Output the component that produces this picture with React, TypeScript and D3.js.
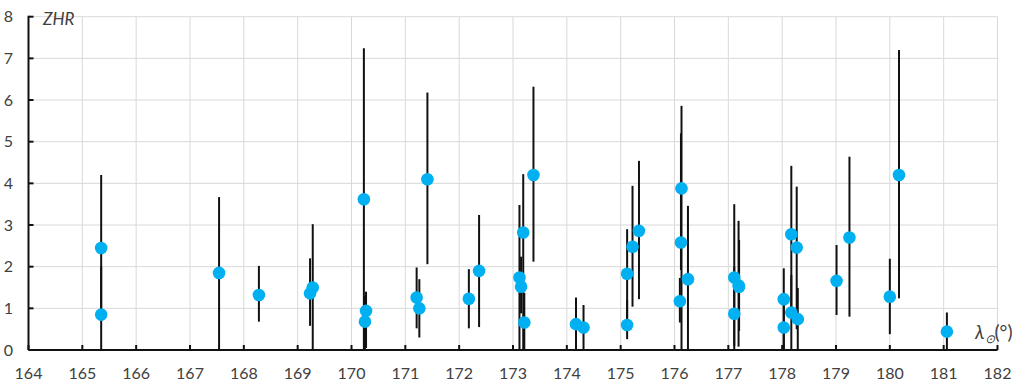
import React from "react";
import * as d3 from "d3";

const xTicks = [164, 165, 166, 167, 168, 169, 170, 171, 172, 173, 174, 175, 176, 177, 178, 179, 180, 181, 182];
const yTicks = [0, 1, 2, 3, 4, 5, 6, 7, 8];

const lambda = [165.35, 165.35, 167.54, 168.28, 169.23, 169.28, 170.23, 170.27, 170.25, 171.21, 171.26, 171.41, 172.18, 172.37, 173.12, 173.15, 173.19, 173.21, 173.38, 174.17, 174.31, 175.12, 175.12, 175.22, 175.34, 176.13, 176.12, 176.10, 176.25, 177.11, 177.11, 177.19, 177.2, 178.03, 178.03, 178.17, 178.17, 178.27, 178.29, 179.01, 179.25, 180.0, 180.17, 181.06];
const zhr = [2.45, 0.85, 1.85, 1.32, 1.36, 1.5, 3.62, 0.94, 0.68, 1.26, 1.0, 4.1, 1.23, 1.9, 1.74, 1.52, 2.82, 0.66, 4.2, 0.62, 0.54, 1.83, 0.6, 2.48, 2.86, 3.88, 2.58, 1.17, 1.7, 1.74, 0.87, 1.55, 1.52, 1.22, 0.54, 2.78, 0.9, 2.46, 0.74, 1.66, 2.7, 1.28, 4.2, 0.44];
const zhrLow = [0.7, 0, 0, 0.68, 0.58, 0, 0, 0.05, 0, 0.52, 0.3, 2.06, 0.52, 0.55, 0, 0.88, 0, 0, 2.12, 0, 0, 0.75, 0.26, 1.04, 1.22, 0, 1.92, 0.66, 0, 0, 0.1, 0.08, 0.46, 0, 0, 0.9, 0, 0.5, 0, 0.84, 0.8, 0.38, 1.24, 0];
const zhrHigh = [4.2, 2.0, 3.67, 2.02, 2.2, 3.02, 7.24, 1.4, 1.3, 1.98, 1.7, 6.18, 1.94, 3.24, 3.48, 2.24, 4.22, 1.37, 6.32, 1.26, 1.08, 2.9, 1.2, 3.94, 4.54, 5.86, 5.2, 1.73, 3.46, 3.5, 2.0, 3.1, 2.64, 1.96, 1.1, 4.42, 1.8, 3.92, 1.49, 2.52, 4.64, 2.19, 7.2, 0.9];

const W = 1024;
const H = 388;
const FONT = "Lato, 'Open Sans', sans-serif";
const TXT = "#404040";

export default function App() {
  const x = d3.scaleLinear().domain([164, 182]).range([28.5, 997.5]);
  const y = d3.scaleLinear().domain([0, 8]).range([350, 16.7]);
  const idx = d3.range(lambda.length);

  return (
    <svg width={W} height={H} style={{ position: "absolute", left: 0, top: 0, background: "#fff" }}>
      {/* grid */}
      <g stroke="#d9d9d9" strokeWidth={1}>
        {xTicks.slice(1).map((t) => (
          <line key={"gx" + t} x1={x(t)} x2={x(t)} y1={y(8)} y2={y(0)} />
        ))}
        {yTicks.slice(1).map((t) => (
          <line key={"gy" + t} x1={x(164)} x2={x(182)} y1={y(t)} y2={y(t)} />
        ))}
      </g>
      {/* error bars */}
      <g stroke="#111" strokeWidth={2}>
        {idx.map((i) => (
          <line key={"e" + i} x1={x(lambda[i])} x2={x(lambda[i])} y1={y(zhrLow[i])} y2={y(zhrHigh[i])} />
        ))}
      </g>
      {/* axes */}
      <g stroke="#111" strokeWidth={2}>
        <line x1={x(164)} x2={x(182)} y1={y(0)} y2={y(0)} />
        <line x1={x(164)} x2={x(164)} y1={y(0)} y2={y(8) - 1} />
        {xTicks.map((t) => (
          <line key={"tx" + t} x1={x(t)} x2={x(t)} y1={y(0)} y2={y(0) - 5} />
        ))}
        {yTicks.map((t) => (
          <line key={"ty" + t} x1={x(164)} x2={x(164) + 5} y1={y(t)} y2={y(t)} />
        ))}
      </g>
      {/* points */}
      <g fill="#00b0f0">
        {idx.map((i) => (
          <circle key={"p" + i} cx={x(lambda[i])} cy={y(zhr[i])} r={6.3} />
        ))}
      </g>
      {/* tick labels */}
      <g fontFamily={FONT} fontSize={16} fill={TXT}>
        {xTicks.map((t) => (
          <text key={"lx" + t} x={x(t)} y={379} textAnchor="middle">
            {t}
          </text>
        ))}
        {yTicks.map((t) => (
          <text key={"ly" + t} x={13} y={y(t)} dy="0.35em" textAnchor="end">
            {t}
          </text>
        ))}
      </g>
      {/* axis titles */}
      <text x={43} y={25} fontFamily={FONT} fontSize={17} fontStyle="italic" fill={TXT}>
        ZHR
      </text>
      <text x={975} y={339} fontFamily={FONT} fontSize={19} fill={TXT}>
        <tspan fontStyle="italic">λ</tspan>
        <tspan fontStyle="italic" fontSize={12} dy={4}>⊙</tspan>
        <tspan dy={-4}>(°)</tspan>
      </text>
    </svg>
  );
}
